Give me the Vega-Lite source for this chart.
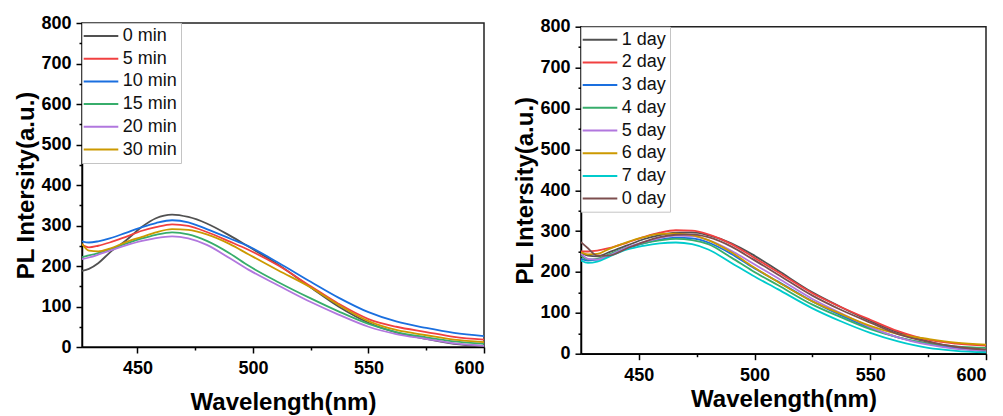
{
  "$schema": "https://vega.github.io/schema/vega-lite/v6.json",
  "padding": {"left": 14, "top": 6, "right": 0, "bottom": 0},
  "spacing": 27,
  "background": "white",
  "config": {
    "font": "Liberation Sans",
    "view": {"stroke": "#222", "strokeWidth": 1.5},
    "axis": {"grid": false, "domainColor": "#000", "domainWidth": 1.5, "tickColor": "#000", "tickWidth": 1.5,
      "labelFont": "Liberation Sans", "labelFontWeight": "bold", "labelFontSize": 18, "labelColor": "#000", "labelPadding": 4,
      "titleFont": "Liberation Sans", "titleFontWeight": "bold", "titleFontSize": 24, "titleColor": "#000"},
    "legend": {"orient": "top-left", "offset": 0, "strokeColor": "#c4c4c4", "strokeWidth": 1, "padding": 4, "fillColor": "white",
      "labelFont": "Liberation Sans", "labelFontSize": 18, "labelColor": "#111", "labelOffset": 18.7,
      "symbolType": "M-2.26,0H4.66", "symbolSize": 100, "symbolStrokeWidth": 2, "rowPadding": 4.7}
  },
  "datasets": {
    "left": [
      {"s":"0 min","x":426,"y":188},{"s":"0 min","x":429,"y":193},{"s":"0 min","x":433,"y":207},{"s":"0 min","x":438,"y":233},{"s":"0 min","x":445,"y":263},{"s":"0 min","x":452,"y":297},{"s":"0 min","x":458,"y":318},{"s":"0 min","x":465,"y":327},{"s":"0 min","x":472,"y":321},{"s":"0 min","x":480,"y":305},{"s":"0 min","x":490,"y":275},{"s":"0 min","x":498,"y":248},{"s":"0 min","x":511,"y":203},{"s":"0 min","x":525,"y":147},{"s":"0 min","x":537,"y":100},{"s":"0 min","x":550,"y":60},{"s":"0 min","x":562,"y":36},{"s":"0 min","x":575,"y":20},{"s":"0 min","x":587,"y":8},{"s":"0 min","x":600,"y":2},
      {"s":"5 min","x":426,"y":253},{"s":"5 min","x":429,"y":246},{"s":"5 min","x":433,"y":250},{"s":"5 min","x":438,"y":258},{"s":"5 min","x":445,"y":272},{"s":"5 min","x":452,"y":287},{"s":"5 min","x":458,"y":296},{"s":"5 min","x":465,"y":303},{"s":"5 min","x":472,"y":299},{"s":"5 min","x":480,"y":284},{"s":"5 min","x":490,"y":260},{"s":"5 min","x":498,"y":240},{"s":"5 min","x":511,"y":201},{"s":"5 min","x":525,"y":150},{"s":"5 min","x":537,"y":107},{"s":"5 min","x":550,"y":69},{"s":"5 min","x":562,"y":50},{"s":"5 min","x":575,"y":37},{"s":"5 min","x":587,"y":25},{"s":"5 min","x":600,"y":18},
      {"s":"10 min","x":426,"y":261},{"s":"10 min","x":429,"y":258},{"s":"10 min","x":433,"y":261},{"s":"10 min","x":438,"y":268},{"s":"10 min","x":445,"y":282},{"s":"10 min","x":452,"y":296},{"s":"10 min","x":458,"y":306},{"s":"10 min","x":465,"y":313},{"s":"10 min","x":472,"y":308},{"s":"10 min","x":480,"y":291},{"s":"10 min","x":490,"y":268},{"s":"10 min","x":498,"y":249},{"s":"10 min","x":511,"y":208},{"s":"10 min","x":525,"y":161},{"s":"10 min","x":537,"y":122},{"s":"10 min","x":550,"y":86},{"s":"10 min","x":562,"y":63},{"s":"10 min","x":575,"y":47},{"s":"10 min","x":587,"y":35},{"s":"10 min","x":600,"y":27},
      {"s":"15 min","x":426,"y":222},{"s":"15 min","x":429,"y":226},{"s":"15 min","x":433,"y":232},{"s":"15 min","x":438,"y":241},{"s":"15 min","x":445,"y":255},{"s":"15 min","x":452,"y":268},{"s":"15 min","x":458,"y":277},{"s":"15 min","x":465,"y":283},{"s":"15 min","x":472,"y":278},{"s":"15 min","x":480,"y":262},{"s":"15 min","x":490,"y":231},{"s":"15 min","x":498,"y":201},{"s":"15 min","x":511,"y":160},{"s":"15 min","x":525,"y":120},{"s":"15 min","x":537,"y":88},{"s":"15 min","x":550,"y":57},{"s":"15 min","x":562,"y":37},{"s":"15 min","x":575,"y":24},{"s":"15 min","x":587,"y":14},{"s":"15 min","x":600,"y":8},
      {"s":"20 min","x":426,"y":217},{"s":"20 min","x":429,"y":221},{"s":"20 min","x":433,"y":228},{"s":"20 min","x":438,"y":238},{"s":"20 min","x":445,"y":251},{"s":"20 min","x":452,"y":262},{"s":"20 min","x":458,"y":269},{"s":"20 min","x":465,"y":273},{"s":"20 min","x":472,"y":268},{"s":"20 min","x":480,"y":252},{"s":"20 min","x":490,"y":219},{"s":"20 min","x":498,"y":191},{"s":"20 min","x":511,"y":152},{"s":"20 min","x":525,"y":111},{"s":"20 min","x":537,"y":80},{"s":"20 min","x":550,"y":50},{"s":"20 min","x":562,"y":32},{"s":"20 min","x":575,"y":20},{"s":"20 min","x":587,"y":9},{"s":"20 min","x":600,"y":3},
      {"s":"30 min","x":426,"y":255},{"s":"30 min","x":429,"y":238},{"s":"30 min","x":433,"y":236},{"s":"30 min","x":438,"y":243},{"s":"30 min","x":445,"y":259},{"s":"30 min","x":452,"y":272},{"s":"30 min","x":458,"y":283},{"s":"30 min","x":465,"y":291},{"s":"30 min","x":472,"y":289},{"s":"30 min","x":480,"y":278},{"s":"30 min","x":490,"y":254},{"s":"30 min","x":498,"y":229},{"s":"30 min","x":511,"y":189},{"s":"30 min","x":525,"y":147},{"s":"30 min","x":537,"y":104},{"s":"30 min","x":550,"y":64},{"s":"30 min","x":562,"y":42},{"s":"30 min","x":575,"y":29},{"s":"30 min","x":587,"y":18},{"s":"30 min","x":600,"y":12}
    ],
    "right": [
      {"s":"1 day","x":425,"y":248},{"s":"1 day","x":428,"y":240},{"s":"1 day","x":432,"y":238},{"s":"1 day","x":437,"y":248},{"s":"1 day","x":445,"y":265},{"s":"1 day","x":452,"y":280},{"s":"1 day","x":459,"y":290},{"s":"1 day","x":466,"y":296},{"s":"1 day","x":473,"y":297},{"s":"1 day","x":480,"y":290},{"s":"1 day","x":490,"y":270},{"s":"1 day","x":499,"y":243},{"s":"1 day","x":510,"y":204},{"s":"1 day","x":525,"y":150},{"s":"1 day","x":537,"y":115},{"s":"1 day","x":550,"y":80},{"s":"1 day","x":562,"y":52},{"s":"1 day","x":575,"y":30},{"s":"1 day","x":587,"y":15},{"s":"1 day","x":600,"y":6},
      {"s":"2 day","x":425,"y":250},{"s":"2 day","x":428,"y":250},{"s":"2 day","x":432,"y":252},{"s":"2 day","x":437,"y":258},{"s":"2 day","x":445,"y":272},{"s":"2 day","x":452,"y":285},{"s":"2 day","x":459,"y":296},{"s":"2 day","x":466,"y":302},{"s":"2 day","x":473,"y":301},{"s":"2 day","x":480,"y":292},{"s":"2 day","x":490,"y":268},{"s":"2 day","x":499,"y":238},{"s":"2 day","x":510,"y":200},{"s":"2 day","x":525,"y":148},{"s":"2 day","x":537,"y":115},{"s":"2 day","x":550,"y":83},{"s":"2 day","x":562,"y":55},{"s":"2 day","x":575,"y":34},{"s":"2 day","x":587,"y":25},{"s":"2 day","x":600,"y":20},
      {"s":"3 day","x":425,"y":232},{"s":"3 day","x":428,"y":228},{"s":"3 day","x":432,"y":230},{"s":"3 day","x":437,"y":240},{"s":"3 day","x":445,"y":258},{"s":"3 day","x":452,"y":270},{"s":"3 day","x":459,"y":279},{"s":"3 day","x":466,"y":284},{"s":"3 day","x":473,"y":282},{"s":"3 day","x":480,"y":272},{"s":"3 day","x":490,"y":244},{"s":"3 day","x":499,"y":212},{"s":"3 day","x":510,"y":177},{"s":"3 day","x":525,"y":128},{"s":"3 day","x":537,"y":95},{"s":"3 day","x":550,"y":63},{"s":"3 day","x":562,"y":40},{"s":"3 day","x":575,"y":24},{"s":"3 day","x":587,"y":14},{"s":"3 day","x":600,"y":8},
      {"s":"4 day","x":425,"y":240},{"s":"4 day","x":428,"y":230},{"s":"4 day","x":432,"y":232},{"s":"4 day","x":437,"y":243},{"s":"4 day","x":445,"y":260},{"s":"4 day","x":452,"y":270},{"s":"4 day","x":459,"y":277},{"s":"4 day","x":466,"y":281},{"s":"4 day","x":473,"y":278},{"s":"4 day","x":480,"y":268},{"s":"4 day","x":490,"y":235},{"s":"4 day","x":499,"y":203},{"s":"4 day","x":510,"y":168},{"s":"4 day","x":525,"y":120},{"s":"4 day","x":537,"y":90},{"s":"4 day","x":550,"y":60},{"s":"4 day","x":562,"y":40},{"s":"4 day","x":575,"y":25},{"s":"4 day","x":587,"y":18},{"s":"4 day","x":600,"y":14},
      {"s":"5 day","x":425,"y":245},{"s":"5 day","x":428,"y":232},{"s":"5 day","x":432,"y":230},{"s":"5 day","x":437,"y":240},{"s":"5 day","x":445,"y":260},{"s":"5 day","x":452,"y":273},{"s":"5 day","x":459,"y":283},{"s":"5 day","x":466,"y":289},{"s":"5 day","x":473,"y":288},{"s":"5 day","x":480,"y":278},{"s":"5 day","x":490,"y":252},{"s":"5 day","x":499,"y":222},{"s":"5 day","x":510,"y":185},{"s":"5 day","x":525,"y":134},{"s":"5 day","x":537,"y":100},{"s":"5 day","x":550,"y":65},{"s":"5 day","x":562,"y":40},{"s":"5 day","x":575,"y":22},{"s":"5 day","x":587,"y":12},{"s":"5 day","x":600,"y":7},
      {"s":"6 day","x":425,"y":248},{"s":"6 day","x":428,"y":243},{"s":"6 day","x":432,"y":244},{"s":"6 day","x":437,"y":256},{"s":"6 day","x":445,"y":273},{"s":"6 day","x":452,"y":285},{"s":"6 day","x":459,"y":293},{"s":"6 day","x":466,"y":294},{"s":"6 day","x":473,"y":290},{"s":"6 day","x":480,"y":278},{"s":"6 day","x":490,"y":248},{"s":"6 day","x":499,"y":214},{"s":"6 day","x":510,"y":176},{"s":"6 day","x":525,"y":128},{"s":"6 day","x":537,"y":98},{"s":"6 day","x":550,"y":68},{"s":"6 day","x":562,"y":48},{"s":"6 day","x":575,"y":36},{"s":"6 day","x":587,"y":27},{"s":"6 day","x":600,"y":22},
      {"s":"7 day","x":425,"y":228},{"s":"7 day","x":428,"y":222},{"s":"7 day","x":432,"y":225},{"s":"7 day","x":437,"y":237},{"s":"7 day","x":445,"y":255},{"s":"7 day","x":452,"y":264},{"s":"7 day","x":459,"y":270},{"s":"7 day","x":466,"y":272},{"s":"7 day","x":473,"y":268},{"s":"7 day","x":480,"y":255},{"s":"7 day","x":490,"y":222},{"s":"7 day","x":499,"y":192},{"s":"7 day","x":510,"y":158},{"s":"7 day","x":525,"y":111},{"s":"7 day","x":537,"y":80},{"s":"7 day","x":550,"y":51},{"s":"7 day","x":562,"y":30},{"s":"7 day","x":575,"y":14},{"s":"7 day","x":587,"y":7},{"s":"7 day","x":600,"y":3},
      {"s":"0 day","x":425,"y":273},{"s":"0 day","x":428,"y":258},{"s":"0 day","x":432,"y":240},{"s":"0 day","x":437,"y":240},{"s":"0 day","x":445,"y":258},{"s":"0 day","x":452,"y":273},{"s":"0 day","x":459,"y":285},{"s":"0 day","x":466,"y":291},{"s":"0 day","x":473,"y":292},{"s":"0 day","x":480,"y":285},{"s":"0 day","x":490,"y":262},{"s":"0 day","x":499,"y":232},{"s":"0 day","x":510,"y":194},{"s":"0 day","x":525,"y":142},{"s":"0 day","x":537,"y":108},{"s":"0 day","x":550,"y":76},{"s":"0 day","x":562,"y":48},{"s":"0 day","x":575,"y":29},{"s":"0 day","x":587,"y":17},{"s":"0 day","x":600,"y":10}
    ],
    "spacer": [{"k": 1}]
  },
  "hconcat": [
    {
      "spacing": 0,
      "resolve": {"scale": {"color": "independent"}, "legend": {"color": "independent"}},
      "vconcat": [
        {
          "width": 402, "height": 1,
          "data": {"name": "spacer"},
          "mark": {"type": "point", "opacity": 0},
          "encoding": {},
          "view": {"stroke": null}
        },
        {
          "width": 402, "height": 324,
          "data": {"name": "left"},
          "mark": {"type": "line", "strokeWidth": 1.8, "interpolate": "monotone", "clip": true},
          "encoding": {
            "x": {"field": "x", "type": "quantitative", "scale": {"domain": [426, 600], "nice": false, "zero": false},
              "axis": {"title": "Wavelength(nm)", "values": [450, 475, 500, 525, 550, 575, 600],
                "labelExpr": "datum.value % 50 === 0 ? datum.label : ''",
                "tickSize": {"condition": {"test": "datum.value % 50 === 0", "value": 6}, "value": 3},
                "labelPadding": 6, "titlePadding": 13}},
            "y": {"field": "y", "type": "quantitative", "scale": {"domain": [0, 800], "nice": false},
              "axis": {"title": "PL Intersity(a.u.)", "values": [0, 50, 100, 150, 200, 250, 300, 350, 400, 450, 500, 550, 600, 650, 700, 750, 800],
                "labelExpr": "datum.value % 100 === 0 ? datum.label : ''",
                "tickSize": {"condition": {"test": "datum.value % 100 === 0", "value": 6}, "value": 3},
                "labelPadding": 5, "titlePadding": 2}},
            "color": {"field": "s", "type": "nominal",
              "scale": {"domain": ["0 min", "5 min", "10 min", "15 min", "20 min", "30 min"],
                "range": ["#515151", "#F14040", "#1A6FDF", "#37AD6B", "#B177DE", "#CC9900"]},
              "legend": {"title": null, "orient": "top-left", "offset": 0}}
          }
        }
      ]
    },
    {
      "spacing": 3.7,
      "resolve": {"scale": {"color": "independent"}, "legend": {"color": "independent"}},
      "vconcat": [
        {
          "width": 405, "height": 1,
          "data": {"name": "spacer"},
          "mark": {"type": "point", "opacity": 0},
          "encoding": {},
          "view": {"stroke": null}
        },
        {
          "width": 405, "height": 327,
          "data": {"name": "right"},
          "mark": {"type": "line", "strokeWidth": 1.8, "interpolate": "monotone", "clip": true},
          "encoding": {
            "x": {"field": "x", "type": "quantitative", "scale": {"domain": [425, 600], "nice": false, "zero": false},
              "axis": {"title": "Wavelength(nm)", "values": [450, 475, 500, 525, 550, 575, 600],
                "labelExpr": "datum.value % 50 === 0 ? datum.label : ''",
                "tickSize": {"condition": {"test": "datum.value % 50 === 0", "value": 6}, "value": 3},
                "labelPadding": 7, "titlePadding": 3}},
            "y": {"field": "y", "type": "quantitative", "scale": {"domain": [0, 800], "nice": false},
              "axis": {"title": "PL Intersity(a.u.)", "values": [0, 50, 100, 150, 200, 250, 300, 350, 400, 450, 500, 550, 600, 650, 700, 750, 800],
                "labelExpr": "datum.value % 100 === 0 ? datum.label : ''",
                "tickSize": {"condition": {"test": "datum.value % 100 === 0", "value": 6}, "value": 3},
                "labelPadding": 5, "titlePadding": 2}},
            "color": {"field": "s", "type": "nominal",
              "scale": {"domain": ["1 day", "2 day", "3 day", "4 day", "5 day", "6 day", "7 day", "0 day"],
                "range": ["#515151", "#F14040", "#1A6FDF", "#37AD6B", "#B177DE", "#CC9900", "#00CBCC", "#7D4E4E"]},
              "legend": {"title": null, "orient": "top-left", "offset": 0}}
          }
        }
      ]
    }
  ],
  "resolve": {"scale": {"x": "independent", "y": "independent", "color": "independent"}, "legend": {"color": "independent"}, "axis": {"x": "independent", "y": "independent"}}
}
